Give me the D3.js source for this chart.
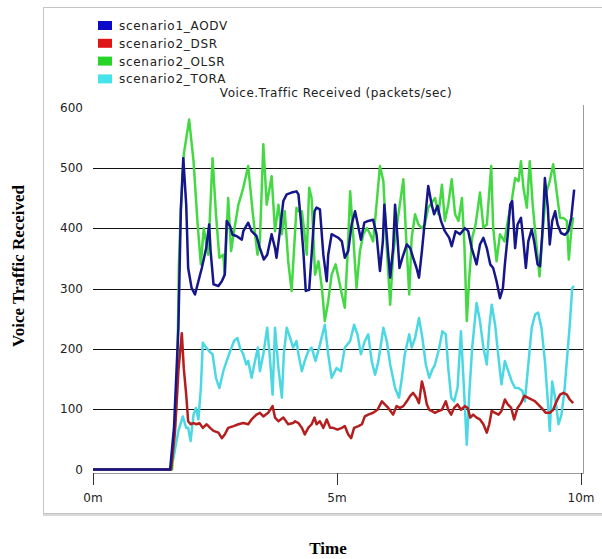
<!DOCTYPE html>
<html>
<head>
<meta charset="utf-8">
<script src="https://cdn.jsdelivr.net/npm/d3@7"></script>
<style>
  body { margin: 0; background: #fff; }
  svg { display: block; }
  .tick-label { font-family: "DejaVu Sans", Verdana, sans-serif; font-size: 12px; fill: #222; }
</style>
</head>
<body>
<div id="chart"></div>
<script>
// values: [minute, packets/sec]
var aodv = [[0,0],[1.58,0],[1.66,70],[1.75,235],[1.8,430],[1.85,516],[1.91,439],[1.95,334],[2.02,301],[2.09,290],[2.16,312],[2.23,334],[2.32,367],[2.38,406],[2.41,362],[2.47,307],[2.57,304],[2.64,312],[2.7,323],[2.74,412],[2.81,403],[2.86,389],[2.94,387],[3.05,381],[3.08,395],[3.18,409],[3.25,395],[3.35,387],[3.42,367],[3.5,348],[3.57,356],[3.66,390],[3.73,367],[3.76,351],[3.83,395],[3.9,445],[3.97,456],[4.07,459],[4.17,461],[4.21,456],[4.26,412],[4.31,362],[4.36,296],[4.43,298],[4.48,356],[4.54,428],[4.58,434],[4.65,431],[4.72,356],[4.79,312],[4.82,356],[4.89,390],[4.96,387],[5.03,384],[5.1,378],[5.16,351],[5.23,362],[5.3,406],[5.37,428],[5.44,401],[5.49,381],[5.56,409],[5.64,412],[5.74,414],[5.81,390],[5.88,329],[5.94,378],[5.97,439],[6.04,367],[6.09,318],[6.15,367],[6.19,439],[6.24,384],[6.28,334],[6.34,351],[6.43,373],[6.5,367],[6.56,351],[6.63,334],[6.68,318],[6.74,362],[6.8,412],[6.87,470],[6.94,439],[6.99,423],[7.06,437],[7.13,412],[7.21,395],[7.3,384],[7.35,370],[7.43,395],[7.52,390],[7.62,400],[7.69,395],[7.76,367],[7.86,340],[7.93,373],[8.0,384],[8.07,367],[8.14,340],[8.2,334],[8.27,312],[8.34,284],[8.4,301],[8.44,340],[8.5,389],[8.55,439],[8.59,445],[8.65,367],[8.7,406],[8.77,417],[8.82,378],[8.87,334],[8.92,378],[8.99,398],[9.04,378],[9.11,340],[9.16,337],[9.21,395],[9.26,483],[9.32,434],[9.36,373],[9.41,412],[9.47,428],[9.52,406],[9.59,392],[9.67,389],[9.74,395],[9.8,417],[9.86,464]];

var dsr = [[0,0],[1.6,0],[1.68,63],[1.75,163],[1.82,226],[1.86,168],[1.91,124],[1.95,80],[2.0,75],[2.06,77],[2.12,75],[2.18,77],[2.25,69],[2.33,75],[2.4,69],[2.47,64],[2.57,61],[2.64,52],[2.7,58],[2.77,69],[2.88,72],[2.98,75],[3.08,77],[3.18,75],[3.25,83],[3.35,91],[3.42,94],[3.49,88],[3.59,94],[3.68,105],[3.73,86],[3.8,80],[3.9,86],[4.0,75],[4.1,77],[4.14,80],[4.21,77],[4.28,69],[4.34,58],[4.41,69],[4.48,75],[4.54,86],[4.58,75],[4.65,80],[4.72,69],[4.79,83],[4.86,69],[4.92,69],[5.01,66],[5.1,69],[5.16,72],[5.23,58],[5.29,52],[5.35,69],[5.44,72],[5.51,75],[5.57,88],[5.64,91],[5.74,94],[5.83,99],[5.92,113],[5.98,108],[6.05,102],[6.15,91],[6.22,105],[6.29,102],[6.36,105],[6.43,113],[6.5,122],[6.56,127],[6.63,119],[6.68,110],[6.74,146],[6.79,130],[6.84,108],[6.89,99],[6.94,97],[7.01,94],[7.08,97],[7.15,99],[7.23,113],[7.28,99],[7.34,91],[7.4,102],[7.47,108],[7.54,99],[7.62,105],[7.68,102],[7.73,86],[7.79,91],[7.86,86],[7.93,83],[8.0,75],[8.07,61],[8.12,75],[8.17,97],[8.24,94],[8.31,91],[8.37,97],[8.44,116],[8.5,108],[8.57,102],[8.63,83],[8.7,102],[8.77,110],[8.84,122],[8.91,119],[8.99,116],[9.06,113],[9.12,108],[9.19,102],[9.28,94],[9.36,94],[9.43,99],[9.5,113],[9.57,124],[9.64,127],[9.71,124],[9.77,116],[9.84,110]];

var olsr = [[0,0],[1.62,0],[1.72,120],[1.76,340],[1.8,430],[1.86,522],[1.97,580],[2.06,511],[2.14,411],[2.21,340],[2.27,400],[2.36,356],[2.45,516],[2.52,423],[2.59,351],[2.67,356],[2.7,323],[2.77,450],[2.83,362],[2.89,395],[2.98,439],[3.08,467],[3.18,503],[3.27,428],[3.37,356],[3.42,378],[3.49,539],[3.56,439],[3.66,486],[3.73,395],[3.8,439],[3.87,390],[3.93,428],[4.0,345],[4.07,296],[4.17,434],[4.21,428],[4.28,428],[4.33,395],[4.38,356],[4.43,467],[4.48,450],[4.55,323],[4.62,345],[4.69,301],[4.75,246],[4.82,279],[4.89,323],[4.97,340],[5.03,318],[5.1,290],[5.16,268],[5.22,362],[5.27,461],[5.33,390],[5.4,301],[5.47,362],[5.54,390],[5.61,400],[5.68,390],[5.74,378],[5.81,439],[5.88,503],[5.95,478],[6.02,367],[6.09,273],[6.15,356],[6.22,400],[6.36,481],[6.41,395],[6.48,290],[6.53,384],[6.6,423],[6.67,406],[6.74,400],[6.8,406],[6.87,434],[7.01,450],[7.08,423],[7.15,472],[7.21,412],[7.28,439],[7.35,481],[7.42,423],[7.49,412],[7.56,450],[7.61,373],[7.66,246],[7.71,318],[7.77,384],[7.84,406],[7.93,459],[8.0,401],[8.07,406],[8.16,503],[8.2,401],[8.27,345],[8.34,390],[8.43,378],[8.51,417],[8.58,445],[8.65,483],[8.72,478],[8.77,511],[8.82,467],[8.89,434],[8.95,511],[9.01,439],[9.08,378],[9.15,320],[9.21,389],[9.28,456],[9.36,478],[9.43,506],[9.5,461],[9.57,417],[9.64,417],[9.71,412],[9.75,348],[9.8,395],[9.84,418]];

var tora = [[0,0],[1.58,0],[1.65,19],[1.75,64],[1.84,88],[1.91,69],[1.95,69],[2.0,47],[2.06,91],[2.11,102],[2.16,83],[2.21,135],[2.25,210],[2.32,202],[2.38,196],[2.45,191],[2.52,152],[2.59,135],[2.67,163],[2.74,180],[2.81,196],[2.89,213],[2.96,218],[3.01,202],[3.08,191],[3.14,174],[3.18,180],[3.25,152],[3.32,180],[3.38,202],[3.42,163],[3.49,191],[3.57,235],[3.63,180],[3.68,124],[3.73,235],[3.8,168],[3.87,119],[3.91,191],[3.97,235],[4.04,218],[4.1,202],[4.17,213],[4.21,191],[4.28,163],[4.34,180],[4.41,196],[4.48,202],[4.56,180],[4.65,207],[4.75,240],[4.82,191],[4.89,152],[4.99,168],[5.08,163],[5.16,202],[5.27,213],[5.35,240],[5.42,224],[5.49,191],[5.57,213],[5.64,224],[5.71,180],[5.78,157],[5.85,180],[5.95,235],[6.02,213],[6.09,174],[6.19,135],[6.27,119],[6.33,152],[6.39,191],[6.48,224],[6.53,202],[6.6,218],[6.68,251],[6.75,218],[6.82,174],[6.89,152],[6.95,165],[7.0,172],[7.08,196],[7.16,229],[7.23,224],[7.28,168],[7.34,119],[7.4,113],[7.47,135],[7.54,229],[7.59,152],[7.66,41],[7.71,124],[7.77,202],[7.86,276],[7.93,246],[8.0,202],[8.07,174],[8.12,235],[8.17,273],[8.24,240],[8.31,185],[8.37,141],[8.44,180],[8.51,163],[8.58,146],[8.65,135],[8.72,135],[8.8,130],[8.85,113],[8.92,174],[8.99,235],[9.06,257],[9.12,260],[9.19,235],[9.26,180],[9.33,102],[9.36,64],[9.41,146],[9.47,119],[9.54,75],[9.6,91],[9.66,130],[9.71,180],[9.77,240],[9.82,301],[9.86,304]];

var seriesNames = ["scenario1_AODV", "scenario2_DSR", "scenario2_OLSR", "scenario2_TORA"];
var seriesValues = [aodv, dsr, olsr, tora];
var lineColors = ["#16168c", "#b41e1e", "#44d944", "#4cd8e2"];
var keyColors = ["#0a0ac8", "#e01414", "#28d428", "#44e4ea"];
var drawOrder = [3, 2, 1, 0]; // TORA first, AODV on top

var yTicks = [0, 100, 200, 300, 400, 500, 600];
var gridValues = [100, 200, 300, 400, 500];
var xTicks = [0, 5, 10];
var xTickLabels = ["0m", "5m", "10m"];

var W = 602, H = 559;

var x = d3.scaleLinear().domain([0, 10]).range([93, 581]);
var y = d3.scaleLinear().domain([0, 600]).range([469.5, 107.5]);

var svg = d3.select("#chart").append("svg")
  .attr("width", W)
  .attr("height", H);

svg.append("rect").attr("width", W).attr("height", H).attr("fill", "#fff");

// outer panel frame
svg.append("rect")
  .attr("x", 43.5).attr("y", 7.5)
  .attr("width", 600).attr("height", 506)
  .attr("fill", "none")
  .attr("stroke", "#c4c4c4");
svg.append("line")
  .attr("x1", 43).attr("x2", W)
  .attr("y1", 515).attr("y2", 515)
  .attr("stroke", "#d8d8d8").attr("stroke-width", 2);

// plot box: right and bottom edge
svg.append("path")
  .attr("d", "M583.5,105V473.5H93")
  .attr("fill", "none")
  .attr("stroke", "#9a9a9a");

// grid
svg.append("g").selectAll("line")
  .data(gridValues)
  .enter().append("line")
  .attr("x1", 93).attr("x2", 583)
  .attr("y1", function(d) { return Math.round(y(d)) + 0.5; })
  .attr("y2", function(d) { return Math.round(y(d)) + 0.5; })
  .attr("stroke", "#111")
  .attr("stroke-width", 1.2);

// y tick labels
svg.append("g").selectAll("text")
  .data(yTicks)
  .enter().append("text")
  .attr("class", "tick-label")
  .attr("x", 83)
  .attr("y", function(d) { return y(d); })
  .attr("dy", "0.35em")
  .attr("text-anchor", "end")
  .text(function(d) { return d; });

// x axis ticks
var xg = svg.append("g");
xg.selectAll("line")
  .data(xTicks)
  .enter().append("line")
  .attr("x1", function(d) { return Math.round(x(d)) + 0.5; })
  .attr("x2", function(d) { return Math.round(x(d)) + 0.5; })
  .attr("y1", 473).attr("y2", 485)
  .attr("stroke", "#333");
xg.selectAll("text")
  .data(xTicks)
  .enter().append("text")
  .attr("class", "tick-label")
  .attr("x", function(d) { return x(d); })
  .attr("y", 502)
  .attr("text-anchor", "middle")
  .text(function(d, i) { return xTickLabels[i]; });

// series
var line = d3.line()
  .x(function(d) { return x(d[0]); })
  .y(function(d) { return y(d[1]); });

svg.append("g").selectAll("path")
  .data(drawOrder)
  .enter().append("path")
  .attr("d", function(i) { return line(seriesValues[i]); })
  .attr("fill", "none")
  .attr("stroke", function(i) { return lineColors[i]; })
  .attr("stroke-width", 2.5)
  .attr("stroke-linejoin", "round");

// title
svg.append("text")
  .attr("class", "tick-label")
  .attr("x", 336).attr("y", 97)
  .attr("text-anchor", "middle")
  .style("letter-spacing", "0.5px")
  .text("Voice.Traffic Received (packets/sec)");

// legend
var legend = svg.append("g").selectAll("g")
  .data(seriesNames)
  .enter().append("g")
  .attr("transform", function(d, i) { return "translate(98," + (21 + i * 17.8) + ")"; });
legend.append("rect")
  .attr("width", 14).attr("height", 9)
  .attr("fill", function(d, i) { return keyColors[i]; });
legend.append("text")
  .attr("class", "tick-label")
  .attr("x", 21).attr("y", 9)
  .style("letter-spacing", "0.7px")
  .text(function(d) { return d; });

// axis titles
svg.append("text")
  .attr("transform", "translate(24,266) rotate(-90)")
  .attr("text-anchor", "middle")
  .style("font-family", "'Liberation Serif', 'Times New Roman', serif")
  .style("font-size", "17px")
  .style("font-weight", "bold")
  .text("Voice Traffic Received");

svg.append("text")
  .attr("x", 328).attr("y", 554)
  .attr("text-anchor", "middle")
  .style("font-family", "'Liberation Serif', 'Times New Roman', serif")
  .style("font-size", "17px")
  .style("font-weight", "bold")
  .text("Time");
</script>
</body>
</html>
